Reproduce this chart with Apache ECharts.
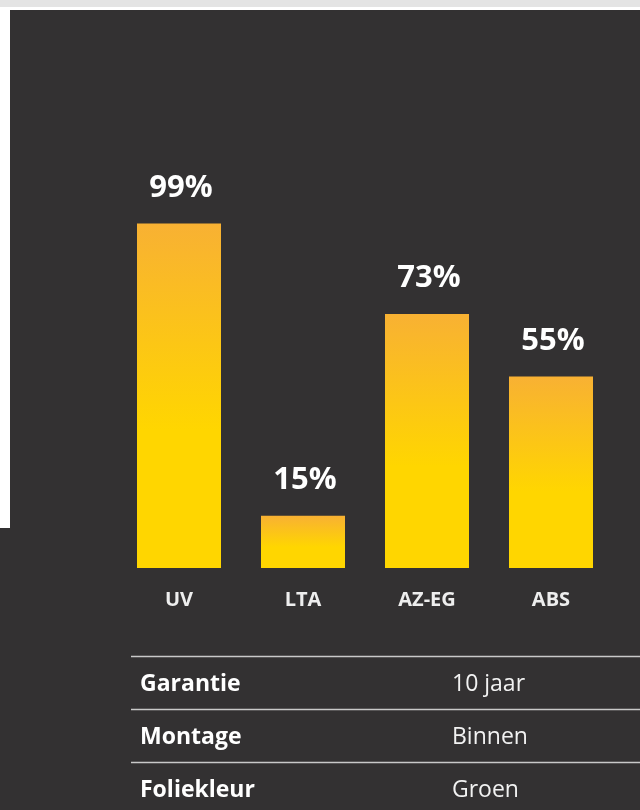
<!DOCTYPE html>
<html>
<head>
<meta charset="utf-8">
<script src="https://cdn.jsdelivr.net/npm/echarts@6/dist/echarts.min.js"></script>
<style>
  html, body { margin: 0; padding: 0; background: #ffffff; }
  #container { width: 640px; height: 810px; }
</style>
</head>
<body>
<div id="container"></div>
<script>
// data
const categories = ["UV", "LTA", "AZ-EG", "ABS"];
const values = [99, 15, 73, 55];
const tableLabels = ["Garantie", "Montage", "Foliekleur"];
const tableValues = ["10 jaar", "Binnen", "Groen"];

const dark = "#333132";
const font = "'Open Sans', 'DejaVu Sans', sans-serif";

// function: table rows as graphic elements
function tableGraphics() {
  let g = [],
    lineY = [656.5, 709.5, 762.5],
    textY = [684, 737, 790];
  for (let i = 0; i < tableLabels.length; i++) {
    g.push({
      type: "line",
      shape: { x1: 131, y1: lineY[i], x2: 640, y2: lineY[i] },
      style: { stroke: "#c9c9c9", lineWidth: 1.5 },
      z: 10
    });
    g.push({
      type: "text",
      x: 140,
      y: textY[i],
      style: {
        text: tableLabels[i],
        fill: "#ffffff",
        font: "bold 23px " + font,
        verticalAlign: "middle"
      },
      z: 10
    });
    g.push({
      type: "text",
      x: 452,
      y: textY[i],
      style: {
        text: tableValues[i],
        fill: "#f2f2f2",
        font: "23px " + font,
        verticalAlign: "middle"
      },
      z: 10
    });
  }
  return g;
}

let myChart = echarts.init(document.getElementById("container"));
let option = {
  backgroundColor: dark,
  animation: false,
  graphic: [
    // light strips round the dark panel
    { type: "rect", shape: { x: 0, y: 0, width: 640, height: 7 }, style: { fill: "#e4e4e4" }, z: 1 },
    { type: "rect", shape: { x: 0, y: 7, width: 640, height: 3 }, style: { fill: "#ffffff" }, z: 1 },
    { type: "rect", shape: { x: 0, y: 0, width: 10, height: 528 }, style: { fill: "#ffffff" }, z: 1 },
    { type: "rect", shape: { x: 0, y: 0, width: 10, height: 7 }, style: { fill: "#e4e4e4" }, z: 1 }
  ].concat(tableGraphics()),
  grid: {
    left: 117,
    right: 27,
    top: 220,
    bottom: 242
  },
  xAxis: {
    type: "category",
    data: categories,
    axisLine: { show: false },
    axisTick: { show: false },
    axisLabel: {
      color: "#eeeeee",
      fontFamily: font,
      fontWeight: "bold",
      fontSize: 20,
      margin: 22
    }
  },
  yAxis: {
    type: "value",
    min: 0,
    max: 100,
    show: false,
    splitLine: { show: false }
  },
  series: [
    {
      type: "bar",
      data: values,
      barWidth: 84,
      itemStyle: {
        color: new echarts.graphic.LinearGradient(0, 0, 0, 1, [
          { offset: 0, color: "#f8b133" },
          { offset: 0.6, color: "#ffd600" },
          { offset: 1, color: "#ffd600" }
        ])
      },
      label: {
        show: true,
        position: "top",
        distance: 20,
        offset: [2, 0],
        formatter: "{c}%",
        color: "#ffffff",
        fontFamily: font,
        fontWeight: "bold",
        fontSize: 31
      }
    }
  ]
};
myChart.setOption(option);
window.addEventListener("resize", myChart.resize);
</script>
</body>
</html>
